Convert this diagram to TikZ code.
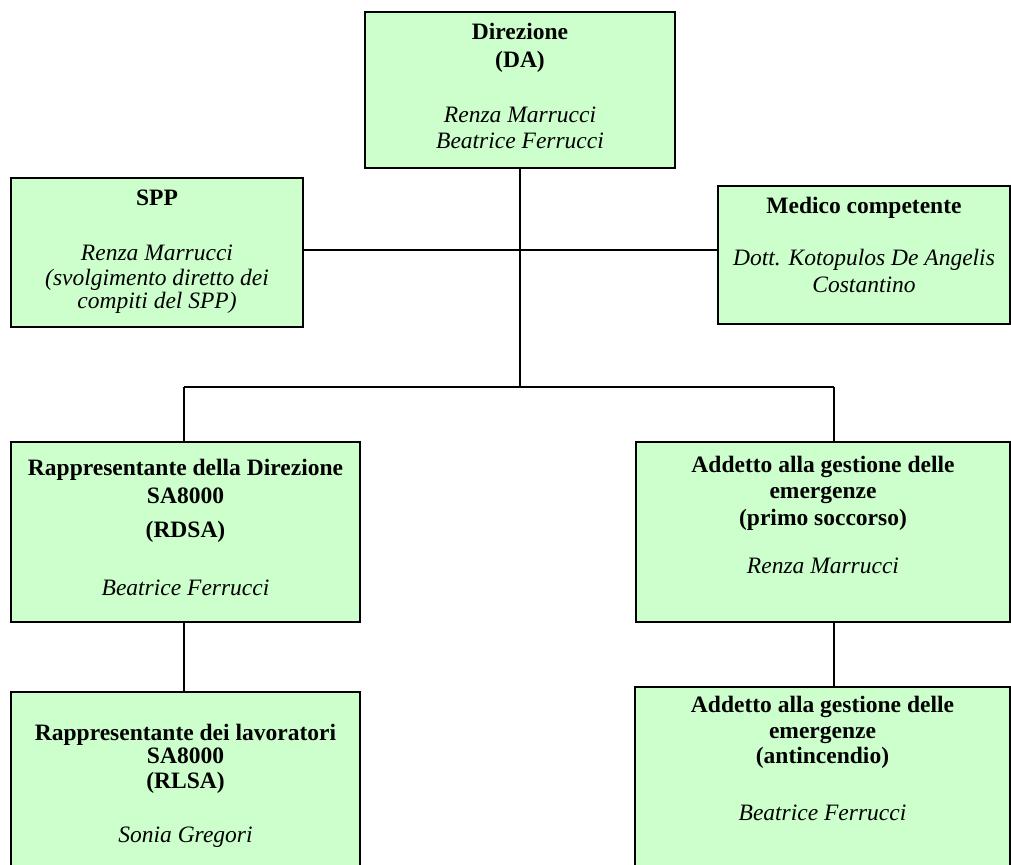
\documentclass[tikz,border=0pt]{standalone}
\usepackage{fontspec}
\setmainfont{Liberation Serif}
\definecolor{verdino}{HTML}{CCFFCC}
\newcommand{\riquadro}[4]{\parbox[c][#2][t]{#1}{\centering\rule{0pt}{#3}#4}}

\begin{document}
\begin{tikzpicture}[x=1pt,y=-1pt]
\tikzstyle{ente}=[draw, fill=verdino, line width=1.5pt, inner sep=0pt, outer sep=0pt, anchor=north west, font=\fontsize{23.5pt}{25pt}\selectfont]
\tikzstyle{filo}=[line width=1.5pt]
\useasboundingbox (0,0) rectangle (1011,864);
\clip (0,0) rectangle (1011,864);
\node[ente] (DA) at (365,12) {\riquadro{310pt}{156pt}{28pt}{\textbf{Direzione}\\[3pt] \textbf{(DA)}\\[30pt] \textit{Renza Marrucci}\\ \textit{Beatrice Ferrucci}}};
\node[ente] (SPP) at (11,178) {\riquadro{292pt}{149pt}{27pt}{\textbf{SPP}\\[30pt] \textit{Renza Marrucci}\\ \textit{(svolgimento diretto dei}\\[-2pt] \textit{compiti del SPP)}}};
\node[ente] (MC) at (718,186) {\riquadro{292pt}{138pt}{27pt}{\textbf{Medico competente}\\[27pt] \textit{Dott. Kotopulos De Angelis}\\[2pt] \textit{Costantino}}};
\node[ente] (RDSA) at (11,442) {\riquadro{349pt}{180pt}{33pt}{\textbf{Rappresentante della Direzione}\\[3pt] \textbf{SA8000}\\[9pt] \textbf{(RDSA)}\\[33pt] \textit{Beatrice Ferrucci}}};
\node[ente] (PS) at (636,442) {\riquadro{374pt}{180pt}{30pt}{\textbf{Addetto alla gestione delle}\\[1pt] \textbf{emergenze}\\[2pt] \textbf{(primo soccorso)}\\[23pt] \textit{Renza Marrucci}}};
\node[ente] (RLSA) at (11,692) {\riquadro{349pt}{200pt}{48pt}{\textbf{Rappresentante dei lavoratori}\\[-2pt] \textbf{SA8000}\\ \textbf{(RLSA)}\\[29pt] \textit{Sonia Gregori}}};
\node[ente] (AI) at (635,687) {\riquadro{375pt}{200pt}{25pt}{\textbf{Addetto alla gestione delle}\\[1pt] \textbf{emergenze}\\ \textbf{(antincendio)}\\[32pt] \textit{Beatrice Ferrucci}}};
\coordinate (asse) at (520,250);
\coordinate (snodo) at (520,387);
\coordinate (sx) at (184,387);
\coordinate (dx) at (834,387);
\draw[filo] (DA.south) -- (snodo);
\draw[filo] (SPP.east |- asse) -- (MC.west |- asse);
\draw[filo] (sx) -- (dx);
\draw[filo] (sx) -- (sx |- RDSA.north);
\draw[filo] (dx) -- (dx |- PS.north);
\draw[filo] (sx |- RDSA.south) -- (sx |- RLSA.north);
\draw[filo] (dx |- PS.south) -- (dx |- AI.north);
\end{tikzpicture}
\end{document}
